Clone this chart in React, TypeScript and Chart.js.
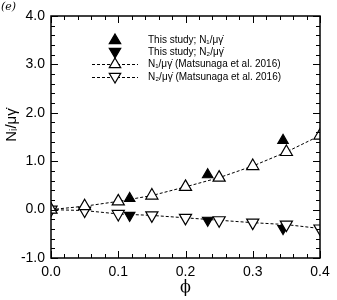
import React, { useEffect, useRef } from "react";
import { Chart, registerables } from "chart.js";
Chart.register(...registerables);

const phiRef = [0, 0.05, 0.1, 0.15, 0.2, 0.25, 0.3, 0.35, 0.4];
const n1Ref = [0, 0.07, 0.17, 0.29, 0.47, 0.66, 0.9, 1.19, 1.53];
const n2Ref = [0, -0.02, -0.09, -0.12, -0.17, -0.22, -0.27, -0.31, -0.39];
const phiStudy = [0, 0.117, 0.233, 0.345];
const n1Study = [0, 0.23, 0.72, 1.43];
const n2Study = [0, -0.12, -0.22, -0.39];
const yTicks = [-1, 0, 1, 2, 3, 4];
const xTicks = [0, 0.1, 0.2, 0.3, 0.4];
const legendLabels = [
  "This study; N\u2081/\u03bc\u03b3\u0307",
  "This study; N\u2082/\u03bc\u03b3\u0307",
  "N\u2081/\u03bc\u03b3\u0307 (Matsunaga et al. 2016)",
  "N\u2082/\u03bc\u03b3\u0307 (Matsunaga et al. 2016)",
];

const toXY = (xs: number[], ys: number[]) => xs.map((x, i) => ({ x, y: ys[i] }));

const FONT = "'Liberation Sans', Arial, sans-serif";

const framePlugin = {
  id: "frame",
  afterDraw(chart: any) {
    const { ctx, chartArea: a, scales } = chart;
    const xs = scales.x, ys = scales.y;
    ctx.save();
    ctx.strokeStyle = "#000";
    ctx.lineWidth = 1.5;
    ctx.strokeRect(a.left, a.top, a.right - a.left, a.bottom - a.top);
    ctx.lineWidth = 1;
    ctx.beginPath();
    for (let i = 0; i <= 20; i++) {
      const v = i * 0.02;
      const p = Math.round(xs.getPixelForValue(v)) + 0.5;
      const L = i % 5 === 0 ? 7 : 4;
      ctx.moveTo(p, a.bottom); ctx.lineTo(p, a.bottom - L);
      ctx.moveTo(p, a.top); ctx.lineTo(p, a.top + L);
    }
    for (let i = 0; i <= 25; i++) {
      const v = -1 + i * 0.2;
      const p = Math.round(ys.getPixelForValue(v)) + 0.5;
      const L = i % 5 === 0 ? 7 : 4;
      ctx.moveTo(a.left, p); ctx.lineTo(a.left + L, p);
      ctx.moveTo(a.right, p); ctx.lineTo(a.right - L, p);
    }
    ctx.stroke();

    // legend
    const rows = [40, 52, 64, 77];
    const mx = 115;
    const styles = [
      { fill: true, rot: 0, line: false },
      { fill: true, rot: 180, line: false },
      { fill: false, rot: 0, line: true },
      { fill: false, rot: 180, line: true },
    ];
    rows.forEach((y, i) => {
      const s = styles[i];
      if (s.line) {
        ctx.save();
        ctx.setLineDash([3, 2]);
        ctx.lineWidth = 1;
        ctx.beginPath();
        ctx.moveTo(92, y + 0.5); ctx.lineTo(138, y + 0.5);
        ctx.stroke();
        ctx.restore();
      }
      ctx.save();
      ctx.translate(mx, y);
      if (s.rot) ctx.rotate(Math.PI);
      const r = 6;
      ctx.beginPath();
      ctx.moveTo(0, -r);
      ctx.lineTo(r * 0.95, r * 0.6);
      ctx.lineTo(-r * 0.95, r * 0.6);
      ctx.closePath();
      ctx.fillStyle = s.fill ? "#000" : "#fff";
      ctx.fill();
      ctx.lineWidth = 1.2;
      ctx.stroke();
      ctx.restore();
      ctx.fillStyle = "#000";
      ctx.font = `10px ${FONT}`;
      ctx.textBaseline = "middle";
      ctx.textAlign = "left";
      ctx.fillText(legendLabels[i], 148, y);
    });

    // axis titles
    ctx.fillStyle = "#000";
    ctx.font = `15px ${FONT}`;
    ctx.textAlign = "center";
    ctx.textBaseline = "middle";
    ctx.save();
    ctx.translate(12, 125);
    ctx.rotate(-Math.PI / 2);
    ctx.fillText("N\u1d62/\u03bc\u03b3\u0307", 0, 0);
    ctx.restore();
    ctx.font = `16px 'DejaVu Serif', serif`;
    ctx.fillText("\u03d5", (a.left + a.right) / 2, 288);
    ctx.font = `italic 11px 'DejaVu Serif', serif`;
    ctx.textAlign = "left";
    ctx.fillText("(e)", 1, 7);
    ctx.restore();
  },
};

export default function App() {
  const ref = useRef<HTMLCanvasElement>(null);
  useEffect(() => {
    document.body.style.margin = "0";
    const common = { borderColor: "#000", pointBorderColor: "#000", pointBorderWidth: 1.2 };
    const chart = new Chart(ref.current!, {
      type: "scatter",
      data: {
        datasets: [
          {
            ...common,
            data: toXY(phiRef, n1Ref),
            showLine: true,
            borderDash: [3, 2],
            borderWidth: 1,
            pointStyle: "triangle",
            pointRadius: 7,
            pointBackgroundColor: "#fff",
          },
          {
            ...common,
            data: toXY(phiRef, n2Ref),
            showLine: true,
            borderDash: [3, 2],
            borderWidth: 1,
            pointStyle: "triangle",
            pointRotation: 180,
            pointRadius: 7,
            pointBackgroundColor: "#fff",
          },
          {
            ...common,
            data: toXY(phiStudy, n1Study),
            showLine: false,
            pointStyle: "triangle",
            pointRadius: 6,
            pointBackgroundColor: "#000",
          },
          {
            ...common,
            data: toXY(phiStudy, n2Study),
            showLine: false,
            pointStyle: "triangle",
            pointRotation: 180,
            pointRadius: 6,
            pointBackgroundColor: "#000",
          },
        ],
      },
      options: {
        animation: false,
        responsive: false,
        events: [],
        layout: { padding: { left: 0, top: 16, right: 17, bottom: 0 } },
        plugins: { legend: { display: false }, tooltip: { enabled: false } },
        scales: {
          x: {
            type: "linear",
            min: 0,
            max: 0.4,
            afterBuildTicks: (s: any) => { s.ticks = xTicks.map((v) => ({ value: v })); },
            afterFit: (s: any) => { s.height = 42; },
            grid: { display: false, drawTicks: false },
            border: { display: false },
            ticks: {
              color: "#000",
              font: { family: FONT, size: 14 },
              padding: 6,
              maxRotation: 0,
              callback: (v: any) => Number(v).toFixed(1),
            },
          },
          y: {
            type: "linear",
            min: -1,
            max: 4,
            afterBuildTicks: (s: any) => { s.ticks = yTicks.map((v) => ({ value: v })); },
            afterFit: (s: any) => { s.width = 51; },
            grid: { display: false, drawTicks: false },
            border: { display: false },
            ticks: {
              color: "#000",
              font: { family: FONT, size: 14 },
              padding: 6,
              callback: (v: any) => Number(v).toFixed(1),
            },
          },
        },
      },
      plugins: [framePlugin],
    } as any);
    return () => chart.destroy();
  }, []);
  return (
    <div style={{ width: 337, height: 300 }}>
      <canvas ref={ref} width={337} height={300} style={{ display: "block" }} />
    </div>
  );
}
